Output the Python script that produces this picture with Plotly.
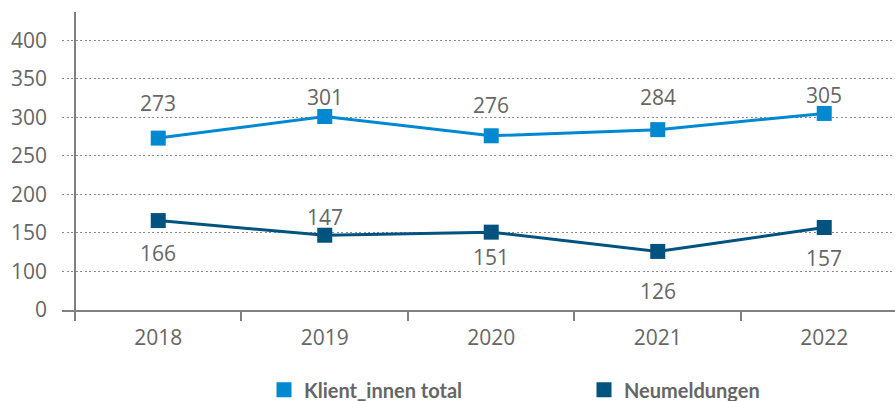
import plotly.graph_objects as go

# ---- data ----
years = ["2018", "2019", "2020", "2021", "2022"]
klient_values = [273, 301, 276, 284, 305]
neu_values = [166, 147, 151, 126, 157]
klient_labels = ["273", "301", "276", "284", "305"]
neu_labels = ["166", "147", "151", "126", "157"]
y_tickvals = [50, 100, 150, 200, 250, 300, 350, 400]
y_ticktext = ["0", "100", "150", "200", "250", "300", "350", "400"]
series_names = ["Klient_innen total", "Neumeldungen"]

# ---- style ----
c_light = "#0088D1"
c_dark = "#00527F"
txt = "#666666"
axis_c = "#808080"
klient_shift = [35, 20, 31, 33, 18]
neu_shift = [-32, 18, -25, -40, -30]

fig = go.Figure()
for vals, col, name, lg in [(klient_values, c_light, series_names[0], "legend"),
                            (neu_values, c_dark, series_names[1], "legend2")]:
    fig.add_trace(go.Scatter(x=years, y=vals, mode="lines",
                             line=dict(color=col, width=3),
                             showlegend=False, hoverinfo="skip"))
    fig.add_trace(go.Scatter(x=years, y=vals, mode="markers", name=name,
                             legend=lg,
                             marker=dict(symbol="square", size=15, color=col)))

for vals, labels, shifts in [(klient_values, klient_labels, klient_shift),
                             (neu_values, neu_labels, neu_shift)]:
    for i, (v, t, s) in enumerate(zip(vals, labels, shifts)):
        fig.add_annotation(x=i, y=v, xref="x", yref="y", text=t,
                           showarrow=False, yshift=s,
                           font=dict(family="Open Sans", size=21, color=txt))

legend_font = dict(family="Lato", size=20, color=txt, weight="bold")
fig.update_layout(
    width=895, height=401,
    margin=dict(l=62, r=0, t=12, b=91, autoexpand=False),
    plot_bgcolor="white", paper_bgcolor="white",
    font=dict(family="Open Sans", size=21, color=txt),
    xaxis=dict(type="category", categoryorder="array", categoryarray=years,
               range=[-0.578, 4.425], tickson="boundaries", ticks="outside",
               ticklen=9, tickwidth=1.5, tickcolor=axis_c,
               showline=True, linecolor=axis_c, linewidth=1.5,
               showgrid=False, zeroline=False, ticklabelstandoff=8,
               tickfont=dict(family="Open Sans", size=21, color=txt)),
    yaxis=dict(range=[50, 436.6], tickvals=y_tickvals, ticktext=y_ticktext,
               anchor="free", position=13 / 833,
               showline=True, linecolor=axis_c, linewidth=1.5,
               showgrid=True, gridcolor="#8a8a8a", griddash="2px,2.5px",
               gridwidth=1.2,
               zeroline=False, ticks="", ticklabelstandoff=23,
               tickfont=dict(family="Open Sans", size=21, color=txt)),
    legend=dict(orientation="h", x=(264 - 62) / 833, xanchor="left",
                y=-0.202, yanchor="top", font=legend_font),
    legend2=dict(orientation="h", x=(584 - 62) / 833, xanchor="left",
                 y=-0.202, yanchor="top", font=legend_font),
)

fig.write_html("out.html",
               config={"displayModeBar": False},
               post_script="document.body.style.margin='0';"
                           "document.body.style.overflow='hidden';")
